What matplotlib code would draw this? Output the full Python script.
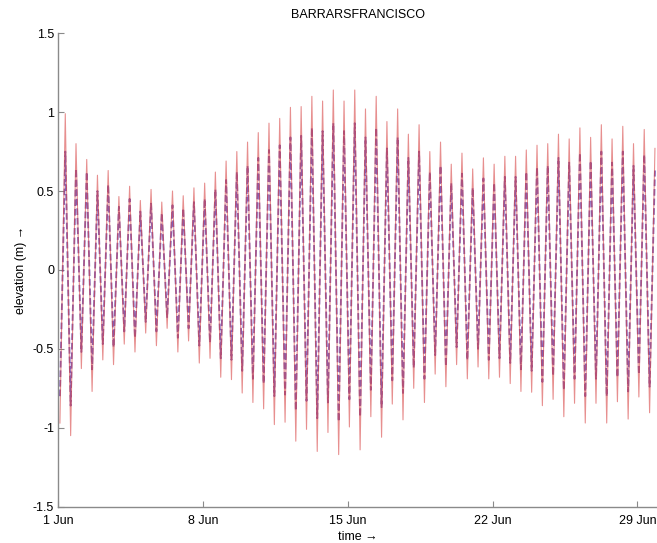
import numpy as np
import matplotlib
matplotlib.use("Agg")
import matplotlib.pyplot as plt

# --- dados (extremos de cada ciclo de mare) ---
# tempo em dias desde 1 Jun 00:00
t_first_high = 0.339      # primeira preamar
tide_period = 0.5184      # periodo semi-diurno [dias]

# vermelho (observado): preamares e baixa-mares [m]
red_high = [0.99, 0.80, 0.70, 0.60, 0.63, 0.465, 0.53, 0.44, 0.51, 0.43,
            0.50, 0.47, 0.52, 0.55, 0.62, 0.69, 0.75, 0.81, 0.87, 0.93,
            0.96, 1.03, 1.035, 1.10, 1.07, 1.14, 1.07, 1.14, 1.02, 1.10,
            0.94, 1.02, 0.86, 0.92, 0.75, 0.81, 0.67, 0.74, 0.64, 0.71,
            0.67, 0.72, 0.72, 0.76, 0.79, 0.80, 0.86, 0.83, 0.90, 0.84,
            0.92, 0.83, 0.91, 0.80, 0.89, 0.77]
red_low = [-0.97, -1.05, -0.625, -0.77, -0.57, -0.60, -0.47, -0.52, -0.40, -0.48,
           -0.37, -0.52, -0.45, -0.59, -0.56, -0.68, -0.695, -0.78, -0.84, -0.88,
           -0.98, -0.965, -1.085, -1.01, -1.15, -1.03, -1.17, -0.995, -1.14, -0.93,
           -1.06, -0.85, -0.95, -0.75, -0.84, -0.66, -0.74, -0.60, -0.69, -0.615,
           -0.69, -0.68, -0.72, -0.77, -0.775, -0.86, -0.82, -0.93, -0.845, -0.97,
           -0.845, -0.97, -0.835, -0.945, -0.805, -0.905]

# azul (tracejado): preamares e baixa-mares [m]
blue_high = [0.75, 0.64, 0.62, 0.50, 0.54, 0.40, 0.45, 0.37, 0.42, 0.36,
             0.41, 0.39, 0.43, 0.45, 0.51, 0.57, 0.62, 0.66, 0.71, 0.76,
             0.79, 0.84, 0.85, 0.90, 0.88, 0.93, 0.88, 0.93, 0.84, 0.90,
             0.77, 0.84, 0.71, 0.75, 0.62, 0.66, 0.55, 0.61, 0.52, 0.58,
             0.55, 0.59, 0.59, 0.62, 0.65, 0.66, 0.71, 0.68, 0.74, 0.69,
             0.75, 0.68, 0.75, 0.66, 0.73, 0.63]
blue_low = [-0.80, -0.86, -0.52, -0.63, -0.47, -0.49, -0.39, -0.43, -0.33, -0.39,
            -0.30, -0.43, -0.37, -0.48, -0.46, -0.56, -0.57, -0.64, -0.69, -0.72,
            -0.80, -0.79, -0.89, -0.83, -0.94, -0.84, -0.96, -0.82, -0.93, -0.76,
            -0.87, -0.70, -0.78, -0.62, -0.69, -0.54, -0.61, -0.49, -0.57, -0.50,
            -0.57, -0.56, -0.59, -0.63, -0.64, -0.71, -0.67, -0.76, -0.69, -0.80,
            -0.69, -0.80, -0.68, -0.77, -0.66, -0.74]

tick_days = [0, 7, 14, 21, 28]
tick_labels = ['1 Jun', '8 Jun', '15 Jun', '22 Jun', '29 Jun']
y_ticks = [-1.5, -1, -0.5, 0, 0.5, 1, 1.5]
y_tick_labels = ['-1.5', '-1', '-0.5', '0', '0.5', '1', '1.5']

# --- serie alternando baixa-mar / preamar ---
n = len(red_high)
t_high = t_first_high + tide_period * np.arange(n)
t_low = t_high - tide_period / 2

t = np.empty(2 * n)
t[0::2] = t_low
t[1::2] = t_high
red = np.empty(2 * n)
red[0::2] = red_low
red[1::2] = red_high
blue = np.empty(2 * n)
blue[0::2] = blue_low
blue[1::2] = blue_high

plt.rcParams['font.family'] = ['Liberation Sans', 'DejaVu Sans']

fig = plt.figure(figsize=(6.57, 5.43), dpi=100)
ax = fig.add_axes([0.0887, 0.0669, 0.9113, 0.872])

# azul tracejado por baixo, vermelho fino por cima (mistura -> roxo)
ax.plot(t, blue, color='#5a2a9e', linewidth=1.3, linestyle='--', alpha=0.75)
ax.plot(t, red, color='#d84545', linewidth=0.8, alpha=0.6)

ax.set_xlim(0, 28.95)
ax.set_ylim(-1.5, 1.5)
ax.set_xticks(tick_days)
ax.set_xticklabels(tick_labels)
ax.set_yticks(y_ticks)
ax.set_yticklabels(y_tick_labels)

for side in ['top', 'right']:
    ax.spines[side].set_visible(False)
for side in ['left', 'bottom']:
    ax.spines[side].set_color('#8a8a8a')
    ax.spines[side].set_linewidth(1.0)
ax.tick_params(direction='in', length=4, color='#8a8a8a', labelsize=9,
               labelcolor='black')
ax.tick_params(axis='x', pad=6)
ax.tick_params(axis='y', pad=3)

ax.set_title('BARRARSFRANCISCO', fontsize=9, pad=11)
ax.set_xlabel('time \u2192', fontsize=9, labelpad=3)
ax.set_ylabel('elevation (m) \u2192', fontsize=9, labelpad=4)

fig.savefig('out.png', dpi=100)
